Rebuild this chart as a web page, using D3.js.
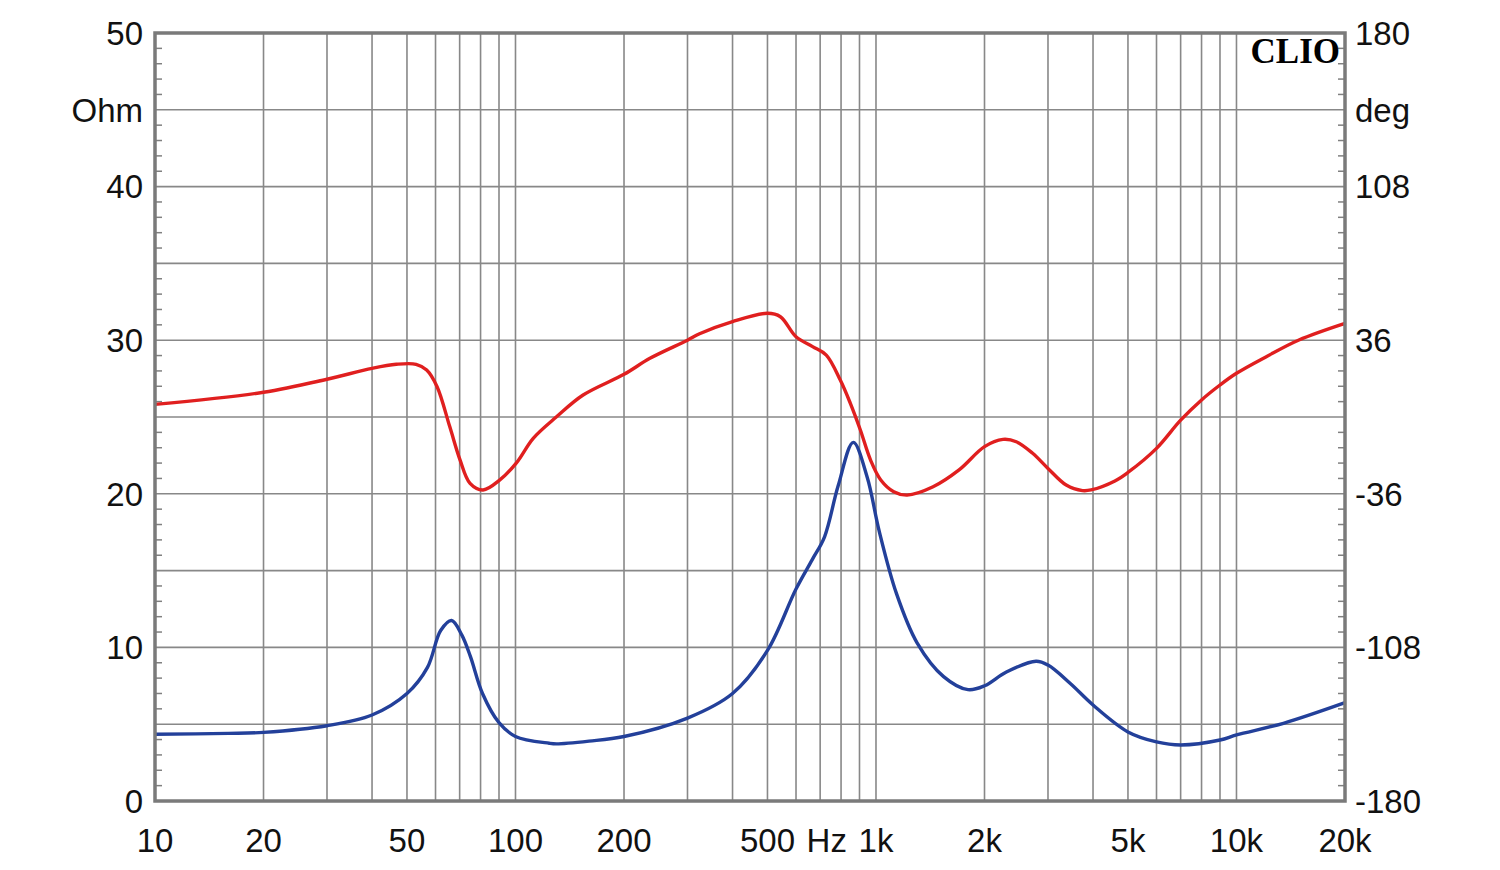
<!DOCTYPE html>
<html>
<head>
<meta charset="utf-8">
<script src="https://cdn.jsdelivr.net/npm/d3@7"></script>
<style>
  body { margin: 0; background: #fff; }
  svg { display: block; }
  .lbl { font-family: "Liberation Sans", Arial, sans-serif; font-size: 33px; fill: #111; }
</style>
</head>
<body>
<svg id="chart" width="1500" height="870"></svg>
<script>
// impedance (blue, Ohm)
var impFreq = [10, 16, 20, 30, 40, 50, 57, 62, 66.5, 71, 75, 81, 90, 100, 124, 130, 160, 200, 300, 400, 500, 600, 665, 720, 785, 865, 945, 1020, 1140, 1300, 1540, 1800, 2000, 2300, 2780, 3000, 3460, 4000, 5000, 6000, 7000, 9000, 10000, 13500, 20000];
var impOhm  = [4.35, 4.4, 4.47, 4.9, 5.6, 7.0, 8.7, 11.1, 11.75, 10.8, 9.4, 7.0, 5.1, 4.2, 3.76, 3.72, 3.9, 4.2, 5.4, 7.0, 9.8, 13.8, 15.7, 17.2, 20.5, 23.35, 21.1, 17.6, 13.5, 10.3, 8.1, 7.25, 7.5, 8.4, 9.1, 8.85, 7.65, 6.25, 4.5, 3.85, 3.65, 3.97, 4.3, 5.06, 6.4];

// phase (red, deg)
var phaseFreq = [10, 20, 30, 40, 46.7, 53, 56.7, 60.6, 65.7, 70.2, 74.8, 81.3, 90.5, 100.6, 112, 130, 154, 200, 236, 300, 324, 400, 500, 543, 600, 667, 728, 796, 849, 905, 966, 1031, 1120, 1220, 1440, 1700, 2000, 2250, 2450, 2720, 3000, 3370, 3740, 3950, 4600, 5000, 6000, 7000, 8000, 9000, 10000, 12100, 14900, 20000];
var phaseDeg  = [5.9, 11.6, 17.7, 22.8, 24.7, 24.7, 22, 14.2, -4.5, -20.2, -31.1, -34.2, -29.5, -21.5, -10, 0.1, 10.3, 20, 27.5, 36, 39, 44.7, 48.6, 47, 37.6, 33, 29, 17.3, 6.4, -6.1, -20.2, -29.5, -35, -36.6, -32.7, -24.8, -13.9, -10.5, -11.6, -17, -24.1, -31.9, -34.5, -34.2, -30, -26, -14.7, -1.5, 8, 15, 20.5, 28.3, 36.1, 43.9];

// axis labels
var xTickVals = [10, 20, 50, 100, 200, 500, 1000, 2000, 5000, 10000, 20000];
var xTickLbls = ["10", "20", "50", "100", "200", "500", "1k", "2k", "5k", "10k", "20k"];
var ohmTicks = [0, 10, 20, 30, 40, 50];
var degTicks = [-180, -108, -36, 36, 108, 180];

var svg = d3.select("#chart");
var margin = {top: 33, right: 155, bottom: 69, left: 155};
var width = 1500 - margin.left - margin.right,
    height = 870 - margin.top - margin.bottom;

var x = d3.scaleLog().domain([10, 20000]).range([0, width]);
var y = d3.scaleLinear().domain([0, 50]).range([height, 0]);
var yDeg = d3.scaleLinear().domain([-180, 180]).range([height, 0]);

var g = svg.append("g").attr("transform", "translate(" + margin.left + "," + margin.top + ")");

// vertical grid : 1-2-3..9 per decade
var vGrid = [];
for (var dec = 10; dec < 20000; dec *= 10) {
    for (var k = 1; k < 10; k++) {
        var f = dec * k;
        if (f > 10 && f < 20000) vGrid.push(f);
    }
}
g.selectAll(".vgrid").data(vGrid).enter().append("line")
    .attr("class", "vgrid")
    .attr("x1", function(d) { return x(d); })
    .attr("x2", function(d) { return x(d); })
    .attr("y1", 0).attr("y2", height)
    .attr("stroke", "#888").attr("stroke-width", 1.6);

// horizontal grid every 5 Ohm
g.selectAll(".hgrid").data(d3.range(5, 50, 5)).enter().append("line")
    .attr("class", "hgrid")
    .attr("x1", 0).attr("x2", width)
    .attr("y1", function(d) { return y(d); })
    .attr("y2", function(d) { return y(d); })
    .attr("stroke", "#888").attr("stroke-width", 1.6);

// small ticks each Ohm on both sides
var minor = d3.range(1, 50).filter(function(d) { return d % 5 != 0; });
g.selectAll(".tl").data(minor).enter().append("line")
    .attr("x1", 0).attr("x2", 7)
    .attr("y1", function(d) { return y(d); }).attr("y2", function(d) { return y(d); })
    .attr("stroke", "#808080").attr("stroke-width", 1.5);
g.selectAll(".tr").data(minor).enter().append("line")
    .attr("x1", width - 7).attr("x2", width)
    .attr("y1", function(d) { return y(d); }).attr("y2", function(d) { return y(d); })
    .attr("stroke", "#808080").attr("stroke-width", 1.5);

// curves
var lineImp = d3.line()
    .x(function(d) { return x(d[0]); })
    .y(function(d) { return y(d[1]); })
    .curve(d3.curveCatmullRom.alpha(0.5));
var linePh = d3.line()
    .x(function(d) { return x(d[0]); })
    .y(function(d) { return yDeg(d[1]); })
    .curve(d3.curveCatmullRom.alpha(0.5));

g.append("path")
    .datum(d3.zip(phaseFreq, phaseDeg))
    .attr("d", linePh)
    .attr("fill", "none").attr("stroke", "#e01f1f").attr("stroke-width", 3.4)
    .attr("stroke-linejoin", "round");
g.append("path")
    .datum(d3.zip(impFreq, impOhm))
    .attr("d", lineImp)
    .attr("fill", "none").attr("stroke", "#23409a").attr("stroke-width", 3.4)
    .attr("stroke-linejoin", "round");

// frame
g.append("rect")
    .attr("width", width).attr("height", height)
    .attr("fill", "none").attr("stroke", "#7a7a7a").attr("stroke-width", 3.5);

// left labels
g.selectAll(".lblL").data(ohmTicks).enter().append("text")
    .attr("class", "lbl")
    .attr("x", -12).attr("y", function(d) { return y(d); })
    .attr("dy", "0.36em").attr("text-anchor", "end")
    .text(function(d) { return d; });
g.append("text").attr("class", "lbl")
    .attr("x", -12).attr("y", y(45)).attr("dy", "0.36em").attr("text-anchor", "end")
    .text("Ohm");

// right labels
g.selectAll(".lblR").data(degTicks).enter().append("text")
    .attr("class", "lbl")
    .attr("x", width + 10).attr("y", function(d) { return yDeg(d); })
    .attr("dy", "0.36em").attr("text-anchor", "start")
    .text(function(d) { return d; });
g.append("text").attr("class", "lbl")
    .attr("x", width + 10).attr("y", y(45)).attr("dy", "0.36em").attr("text-anchor", "start")
    .text("deg");

// bottom labels
g.selectAll(".lblB").data(xTickVals).enter().append("text")
    .attr("class", "lbl")
    .attr("x", function(d) { return x(d); })
    .attr("y", height + 39).attr("dy", "0.36em").attr("text-anchor", "middle")
    .text(function(d, i) { return xTickLbls[i]; });
g.append("text").attr("class", "lbl")
    .attr("x", (x(500) + x(1000)) / 2 + 5).attr("y", height + 39).attr("dy", "0.36em")
    .attr("text-anchor", "middle")
    .text("Hz");

// CLIO mark
g.append("text")
    .attr("x", width - 5).attr("y", 30)
    .attr("text-anchor", "end")
    .style("font-family", "'Liberation Serif', 'DejaVu Serif', serif")
    .style("font-weight", "bold").style("font-size", "35px").style("fill", "#000")
    .text("CLIO");
</script>
</body>
</html>
